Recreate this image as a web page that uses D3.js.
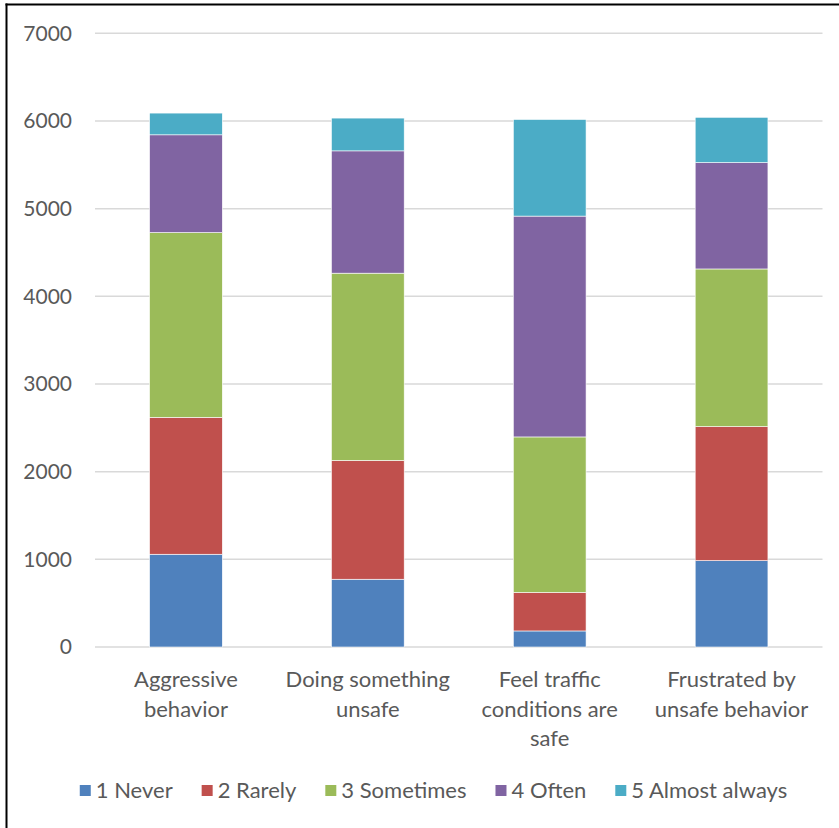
<!DOCTYPE html>
<html>
<head>
<meta charset="utf-8">
<script src="https://cdn.jsdelivr.net/npm/d3@7"></script>
<style>
  html, body { margin: 0; padding: 0; background: #fff; }
  svg { display: block; }
</style>
</head>
<body>
<svg id="chart" width="839" height="828"></svg>
<script>
const categories = [
  ["Aggressive", "behavior"],
  ["Doing something", "unsafe"],
  ["Feel traffic", "conditions are", "safe"],
  ["Frustrated by", "unsafe behavior"]
];
const seriesNames = ["1 Never", "2 Rarely", "3 Sometimes", "4 Often", "5 Almost always"];
const never      = [1058, 773, 183, 985];
const rarely     = [1562, 1355, 439, 1529];
const sometimes  = [2107, 2136, 1774, 1798];
const often      = [1115, 1395, 2519, 1213];
const almost     = [248, 374, 1102, 517];
const colors = ["#4F81BD", "#C0504D", "#9BBB59", "#8064A2", "#4BACC6"];
const yTicks = [0, 1000, 2000, 3000, 4000, 5000, 6000, 7000];

const seriesValues = [never, rarely, sometimes, often, almost];
const rows = categories.map((c, i) => {
  const r = { key: i };
  seriesNames.forEach((s, j) => r[s] = seriesValues[j][i]);
  return r;
});

const svg = d3.select("#chart");
const FONT = "Lato, 'Open Sans', sans-serif";
const TXT = "#595959";

const plot = { left: 95, right: 822.5, top: 33.3, bottom: 647 };

const x = d3.scaleBand().domain(d3.range(categories.length))
  .range([plot.left, plot.right]).paddingInner(0.6).paddingOuter(0.3);
const y = d3.scaleLinear().domain([0, 7000]).range([plot.bottom, plot.top]);

// frame
svg.append("line").attr("x1", 5.5).attr("x2", 839).attr("y1", 4.5).attr("y2", 4.5)
  .attr("stroke", "#000").attr("stroke-width", 2);
svg.append("line").attr("x1", 6.5).attr("x2", 6.5).attr("y1", 3.5).attr("y2", 828)
  .attr("stroke", "#000").attr("stroke-width", 2);

// gridlines
svg.append("g").selectAll("line").data(yTicks).join("line")
  .attr("x1", plot.left).attr("x2", plot.right)
  .attr("y1", d => y(d)).attr("y2", d => y(d))
  .attr("stroke", "#D9D9D9").attr("stroke-width", 1.5);

// y labels
svg.append("g").selectAll("text").data(yTicks).join("text")
  .attr("x", 72).attr("y", d => y(d)).attr("dy", "0.35em")
  .attr("text-anchor", "end")
  .attr("font-family", FONT).attr("font-size", 21).attr("fill", TXT)
  .text(d => d);

// bars
const stack = d3.stack().keys(seriesNames)(rows);
svg.append("g").selectAll("g").data(stack).join("g")
  .attr("fill", (d, i) => colors[i])
  .selectAll("rect").data(d => d).join("rect")
  .attr("x", d => x(d.data.key))
  .attr("width", x.bandwidth())
  .attr("y", d => y(d[1]))
  .attr("height", d => y(d[0]) - y(d[1]))
  .attr("stroke", "#fff").attr("stroke-width", 0.6);

// x labels
const xl = svg.append("g").selectAll("text").data(categories).join("text")
  .attr("text-anchor", "middle")
  .attr("font-family", FONT).attr("font-size", 22).attr("fill", TXT);
xl.each(function(lines, i) {
  d3.select(this).selectAll("tspan").data(lines).join("tspan")
    .attr("x", x(i) + x.bandwidth() / 2)
    .attr("y", (d, k) => 687 + k * 29.7)
    .text(d => d);
});

// legend
const lg = svg.append("g");
const items = lg.selectAll("g").data(seriesNames).join("g");
items.append("rect").attr("width", 11).attr("height", 11).attr("y", -12)
  .attr("fill", (d, i) => colors[i]);
items.append("text").attr("x", 16).attr("y", 0).attr("dy", "0.05em")
  .attr("font-family", FONT).attr("font-size", 22).attr("fill", TXT)
  .text(d => d);
let widths = [];
items.each(function() { widths.push(16 + d3.select(this).select("text").node().getComputedTextLength()); });
const gap = 29;
const total = d3.sum(widths) + gap * (widths.length - 1);
let cx = 433.5 - total / 2;
items.each(function(d, i) {
  d3.select(this).attr("transform", `translate(${cx},797)`);
  cx += widths[i] + gap;
});
</script>
</body>
</html>
